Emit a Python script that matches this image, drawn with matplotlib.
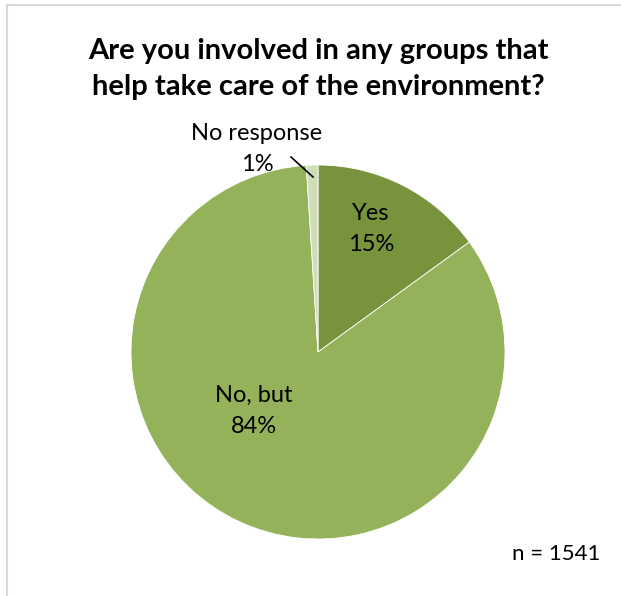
import matplotlib
matplotlib.use("Agg")
import matplotlib.pyplot as plt
from matplotlib.lines import Line2D

categories = ["Yes", "No, but", "No response"]
values = [15, 84, 1]
pct_labels = ["15%", "84%", "1%"]
colors = ["#77933C", "#93B259", "#CFDDB8"]
title_lines = ["Are you involved in any groups that", "help take care of the environment?"]
note = "n = 1541"

W, H = 621, 596
fig = plt.figure(figsize=(W / 100, H / 100), dpi=100)
fig.patch.set_facecolor("white")

FONT = "Lato"

# frame lines
fig.add_artist(Line2D([6.5 / W, 6.5 / W], [1 - 4.5 / H, 0], transform=fig.transFigure,
                      color="#D9D9D9", lw=1.5))
fig.add_artist(Line2D([6.5 / W, 1], [1 - 4.5 / H, 1 - 4.5 / H], transform=fig.transFigure,
                      color="#D9D9D9", lw=1.5))

cx, cy, r = 318, 352, 187
ax = fig.add_axes([(cx - r) / W, (H - cy - r) / H, 2 * r / W, 2 * r / H])
ax.pie(values, colors=colors, startangle=90, counterclock=False,
       wedgeprops=dict(linewidth=0.6, edgecolor="white"))
ax.set_xlim(-1, 1)
ax.set_ylim(-1, 1)
ax.set_aspect("equal")
ax.axis("off")

def px(x, y):
    return (x - cx) / r, (cy - y) / r

# (center x, baseline of line 1, baseline of line 2)
label_pos = [(371, 220, 251), (254, 402, 433), (257, 140, 171)]
for cat, p, (x, b1, b2) in zip(categories, pct_labels, label_pos):
    for txt, b in ((cat, b1), (p, b2)):
        tx, ty = px(x, b)
        ax.text(tx, ty, txt, ha="center", va="baseline", fontsize=17,
                family=FONT, color="black")

# leader line for small slice
x0, y0 = px(291, 157)
x1, y1 = px(313, 177)
ax.plot([x0, x1], [y0, y1], color="black", lw=1.2, clip_on=False)

for line, b in zip(title_lines, (59, 95)):
    fig.text(318 / W, 1 - b / H, line, ha="center", va="baseline", fontsize=21,
             fontweight="bold", family=FONT)
fig.text(556 / W, 1 - 560 / H, note, ha="center", va="baseline", fontsize=16, family=FONT)

fig.savefig("out.png", dpi=100)
